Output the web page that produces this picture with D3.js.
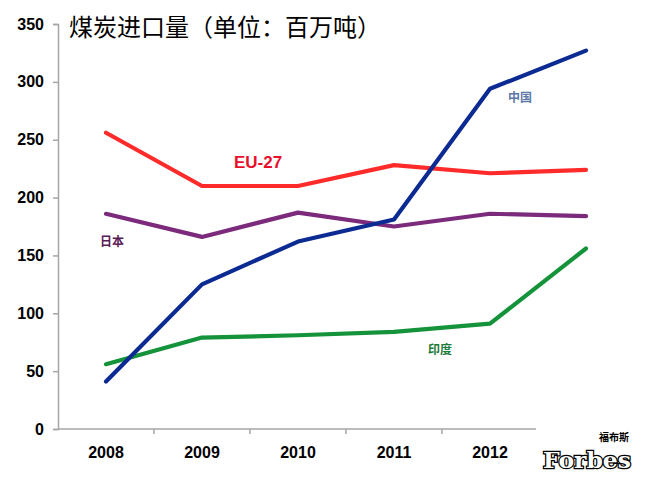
<!DOCTYPE html>
<html>
<head>
    <meta http-equiv="Content-Type" content="text/html; charset=UTF-8" />
    <script src="https://d3js.org/d3.v7.min.js"></script>
    <style>
        body { margin: 0; background: #fff; }
        svg { display: block; }
    </style>
</head>
<body>
<svg></svg>
<script>
    // Data (million tonnes)
    let years = ["2008", "2009", "2010", "2011", "2012", "2013"];
    let tickLabels = ["2008", "2009", "2010", "2011", "2012"];
    let china = [41, 125, 162, 181, 294, 327];
    let eu27 = [256, 210, 210, 228, 221, 224];
    let japan = [186, 166, 187, 175, 186, 184];
    let india = [56, 79, 81, 84, 91, 156];
    let yTicks = [0, 50, 100, 150, 200, 250, 300, 350];

    let width = 645, height = 482;

    let svg = d3.select("svg")
        .attr("width", width)
        .attr("height", height);

    let x = d3.scaleBand()
        .domain(years)
        .range([58, 634])
        .padding(0);

    let y = d3.scaleLinear()
        .domain([0, 350])
        .range([429, 24]);

    // Y axis
    let yAxis = svg.append("g")
        .attr("transform", "translate(58,0)")
        .call(d3.axisLeft(y).tickValues(yTicks).tickSize(5).tickPadding(9));
    yAxis.select(".domain").attr("stroke", "#a6a6a6").attr("stroke-width", 1.5);
    yAxis.selectAll(".tick line").attr("stroke", "#a6a6a6").attr("stroke-width", 1.5);
    yAxis.selectAll("text")
        .attr("font-family", "Liberation Sans, Arial, sans-serif")
        .attr("font-weight", "bold")
        .attr("font-size", "16px")
        .attr("fill", "#000");

    // X axis (ticks between categories)
    let xAxis = svg.append("g")
        .attr("transform", "translate(0,429)");
    xAxis.append("line")
        .attr("x1", x.range()[0]).attr("x2", x.range()[1])
        .attr("y1", 0).attr("y2", 0)
        .attr("stroke", "#a6a6a6").attr("stroke-width", 1.5);
    xAxis.selectAll(".xt")
        .data(years)
        .enter()
        .append("line")
        .attr("class", "xt")
        .attr("x1", d => x(d) + x.bandwidth())
        .attr("x2", d => x(d) + x.bandwidth())
        .attr("y1", 0).attr("y2", 5)
        .attr("stroke", "#a6a6a6").attr("stroke-width", 1.5);
    xAxis.selectAll("text")
        .data(tickLabels)
        .enter()
        .append("text")
        .attr("x", d => x(d) + x.bandwidth() / 2)
        .attr("y", 29)
        .attr("text-anchor", "middle")
        .attr("font-family", "Liberation Sans, Arial, sans-serif")
        .attr("font-weight", "bold")
        .attr("font-size", "16px")
        .text(d => d);

    // Lines
    let series = [
        { name: "eu", values: eu27, color: "#ff2b2b" },
        { name: "japan", values: japan, color: "#7b2a7c" },
        { name: "india", values: india, color: "#14933a" },
        { name: "china", values: china, color: "#0c2b92" }
    ];

    let line = d3.line()
        .x((d, i) => x(years[i]) + x.bandwidth() / 2)
        .y(d => y(d));

    svg.append("g")
        .selectAll("path")
        .data(series)
        .enter()
        .append("path")
        .attr("fill", "none")
        .attr("stroke", d => d.color)
        .attr("stroke-width", 4.2)
        .attr("stroke-linejoin", "round")
        .attr("stroke-linecap", "round")
        .attr("d", d => line(d.values));

    // Series labels
    let labels = [
        { text: "EU-27", x: 234, y: 168, size: 17, color: "#e8102a" },
        { text: "中国", x: 508, y: 102, size: 12, color: "#5b78a8" },
        { text: "日本", x: 100, y: 246, size: 12, color: "#5a1a58" },
        { text: "印度", x: 428, y: 354, size: 12, color: "#1a7a3a" }
    ];
    svg.append("g")
        .selectAll("text")
        .data(labels)
        .enter()
        .append("text")
        .attr("x", d => d.x)
        .attr("y", d => d.y)
        .attr("font-family", "Liberation Sans, 'Noto Sans CJK SC', sans-serif")
        .attr("font-weight", "bold")
        .attr("font-size", d => d.size + "px")
        .attr("fill", d => d.color)
        .text(d => d.text);

    // Title
    svg.append("text")
        .attr("x", 69)
        .attr("y", 36)
        .attr("font-family", "'Noto Sans CJK SC', sans-serif")
        .attr("font-size", "24px")
        .attr("fill", "#000")
        .text("煤炭进口量（单位：百万吨）");

    // Forbes logo over the bottom right corner
    let logo = svg.append("g");
    logo.append("rect")
        .attr("x", 536).attr("y", 418)
        .attr("width", 109).attr("height", 64)
        .attr("fill", "#fff");
    logo.append("text")
        .attr("x", 543).attr("y", 468)
        .attr("font-family", "'DejaVu Serif', serif")
        .attr("font-weight", "bold")
        .attr("font-size", "23px")
        .attr("textLength", 88)
        .attr("lengthAdjust", "spacingAndGlyphs")
        .attr("fill", "#fff")
        .attr("stroke", "#000")
        .attr("stroke-width", 2.5)
        .attr("paint-order", "stroke")
        .text("Forbes");
    logo.append("text")
        .attr("x", 629).attr("y", 441)
        .attr("text-anchor", "end")
        .attr("font-family", "'Noto Sans CJK SC', sans-serif")
        .attr("font-weight", "bold")
        .attr("font-size", "10px")
        .attr("fill", "#000")
        .text("福布斯");
</script>
</body>
</html>
